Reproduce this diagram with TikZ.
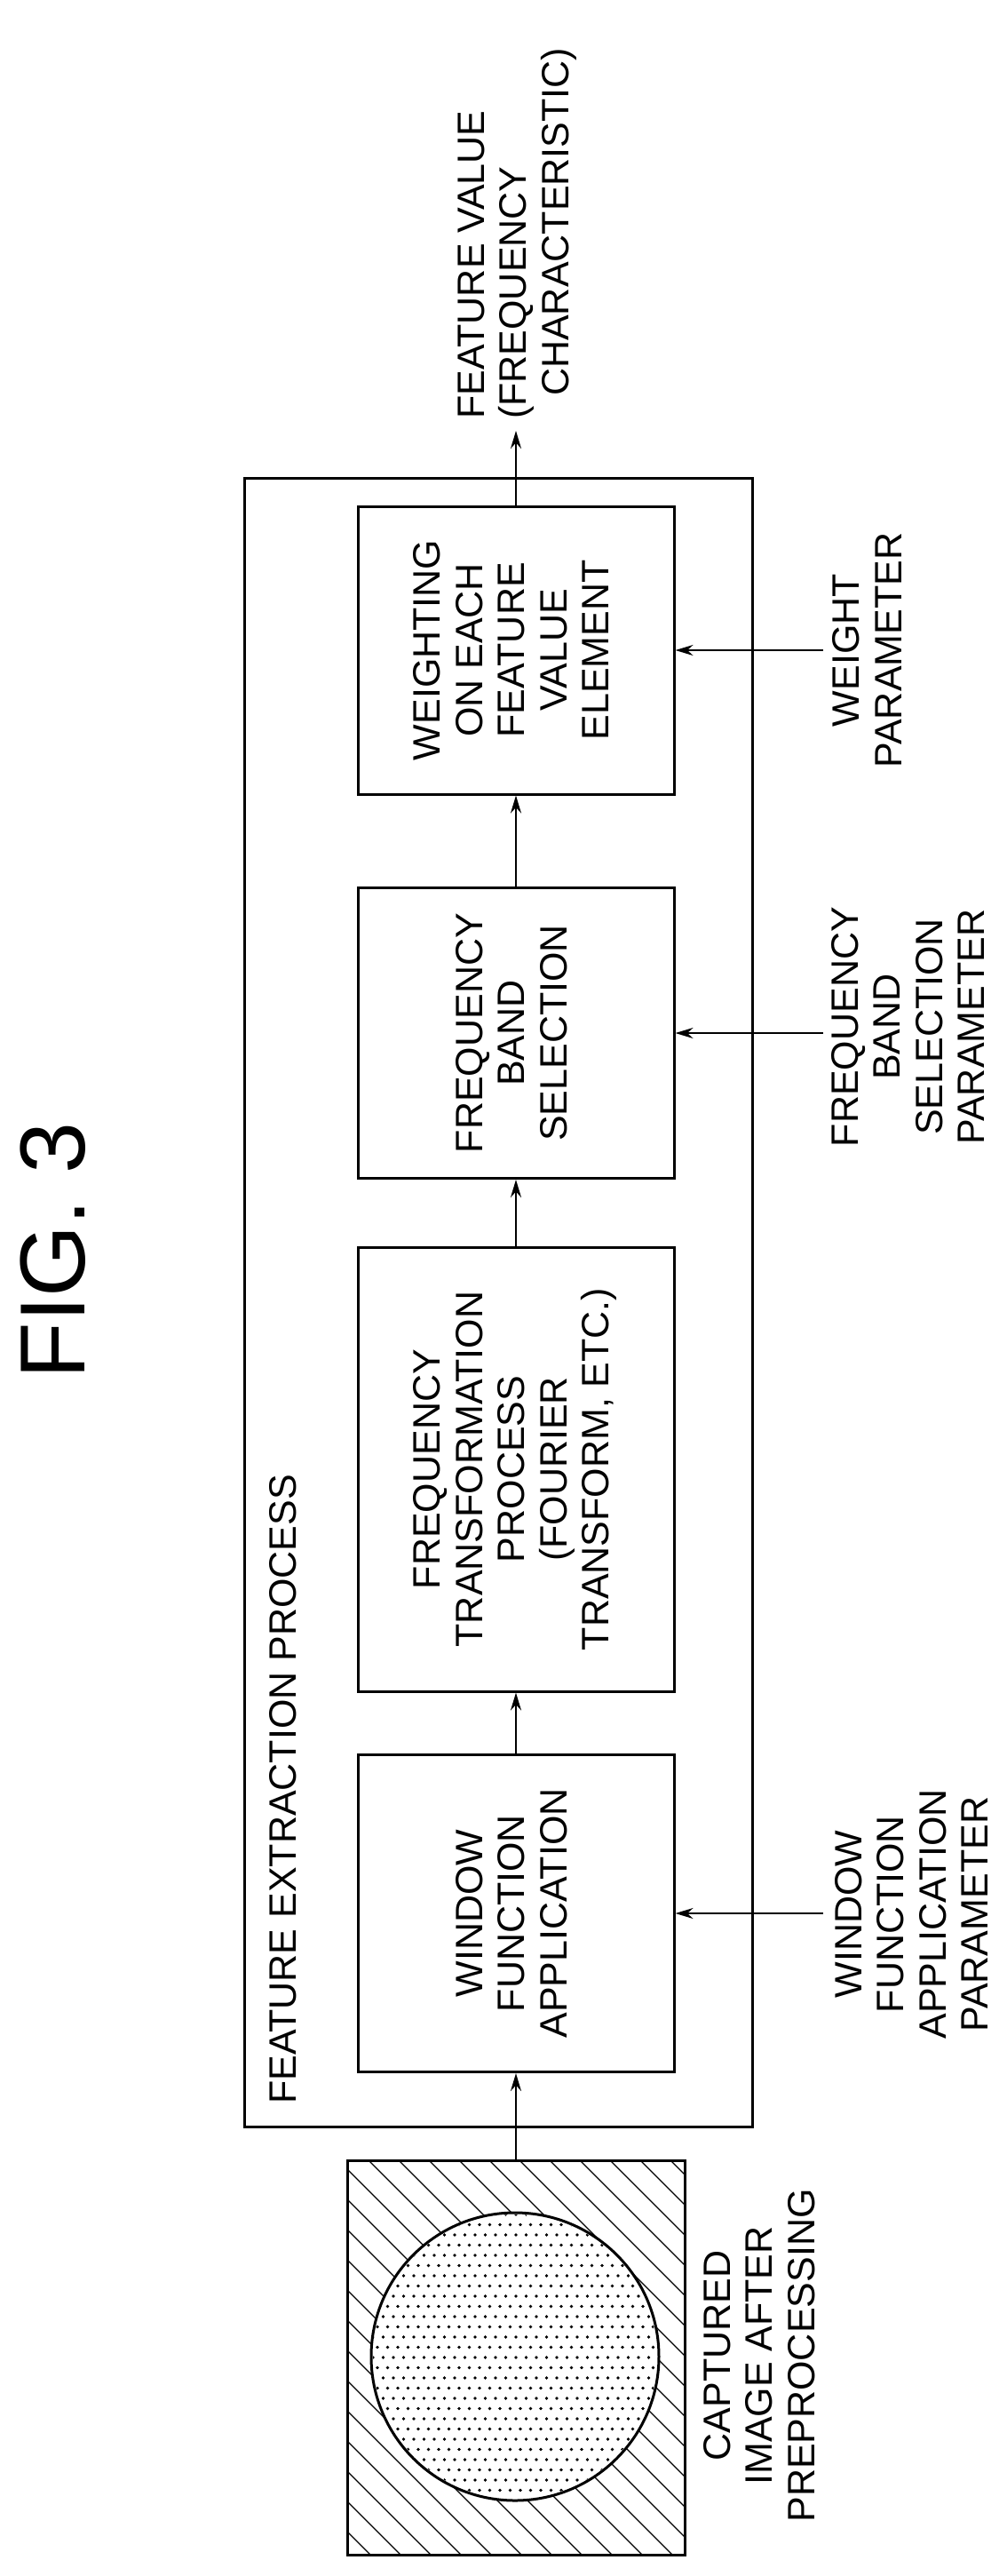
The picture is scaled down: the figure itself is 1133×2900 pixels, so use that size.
\documentclass[tikz,border=0pt]{standalone}
\usepackage{fontspec}
\setmainfont{Liberation Sans}
\usetikzlibrary{arrows.meta}
\begin{document}
\begin{tikzpicture}[x=1pt,y=-1pt,
  box/.style={draw,line width=3pt,minimum width=356pt,inner sep=0pt,font=\fontsize{43}{47.5}\selectfont},
  arr/.style={line width=2pt,-{Stealth[length=20pt,width=12pt]}},
  lab/.style={font=\fontsize{43}{47.5}\selectfont,inner sep=0pt}]
\useasboundingbox (0,0) rectangle (1133,2900);
% outer
\node[draw,line width=3pt,minimum width=572pt,minimum height=1856pt,inner sep=0pt] (outer) at (561,1466) {};
\node[lab,anchor=south] (fep) at (319,2369) {\rotatebox{90}{FEATURE EXTRACTION PROCESS}};
% boxes
\node[box,minimum height=324pt] (b4) at (581,732) {\rotatebox{90}{\begin{tabular}{@{}c@{}}WEIGHTING\\ON EACH\\FEATURE\\VALUE\\ELEMENT\end{tabular}}};
\node[box,minimum height=327pt] (b3) at (581,1163) {\rotatebox{90}{\begin{tabular}{@{}c@{}}FREQUENCY\\BAND\\SELECTION\end{tabular}}};
\node[box,minimum height=500pt] (b2) at (581,1654) {\rotatebox{90}{\begin{tabular}{@{}c@{}}FREQUENCY\\TRANSFORMATION\\PROCESS\\(FOURIER\\TRANSFORM, ETC.)\end{tabular}}};
\node[box,minimum height=357pt] (b1) at (581,2154) {\rotatebox{90}{\begin{tabular}{@{}c@{}}WINDOW\\FUNCTION\\APPLICATION\end{tabular}}};
% captured image
\node[draw,line width=3pt,minimum width=380pt,minimum height=444pt,inner sep=0pt] (img) at (581,2654) {};
\begin{scope}
\clip (391,2432) rectangle (771,2876);
\foreach \k in {-500,-466,...,600}
  \draw[line width=1.2pt] (391,2432+\k) -- ++(500,500);
\end{scope}
\fill[white] (580,2653) circle (162pt);
\begin{scope}
\clip (580,2653) circle (160pt);
\foreach \i in {0,...,29}
  \foreach \j in {0,...,29}
    \fill ({420+\i*11.5+mod(\j,2)*5},{2493+\j*11.5}) circle (1.8pt);
\end{scope}
\draw[line width=3pt] (580,2653) circle (162pt);
\node[draw,line width=3pt,minimum width=380pt,minimum height=444pt,inner sep=0pt] at (581,2654) {};
\node[lab] (cap) at (860,2652) {\rotatebox{90}{\begin{tabular}{@{}c@{}}CAPTURED\\IMAGE AFTER\\PREPROCESSING\end{tabular}}};
% arrows
\draw[arr] (img.north) -- (b1.south);
\draw[arr] (b1.north) -- (b2.south);
\draw[arr] (b2.north) -- (b3.south);
\draw[arr] (b3.north) -- (b4.south);
\coordinate (out) at (581,485);
\draw[arr] (b4.north) -- (out);
\node[lab,anchor=south] (fv) at (583,472) {\rotatebox{90}{\begin{tabular}{@{}l@{}}FEATURE VALUE\\(FREQUENCY\\\hspace*{26pt}CHARACTERISTIC)\end{tabular}}};
\coordinate (p4) at (927,732);
\coordinate (p3) at (927,1163);
\coordinate (p1) at (927,2154);
\draw[arr] (p4) -- (b4.east);
\draw[arr] (p3) -- (b3.east);
\draw[arr] (p1) -- (b1.east);
\node[lab] (wp) at (982,732) {\rotatebox{90}{\begin{tabular}{@{}c@{}}WEIGHT\\PARAMETER\end{tabular}}};
\node[lab] (bp) at (1028,1156) {\rotatebox{90}{\begin{tabular}{@{}c@{}}FREQUENCY\\BAND\\SELECTION\\PARAMETER\end{tabular}}};
\node[lab] (wfp) at (1032,2155) {\rotatebox{90}{\begin{tabular}{@{}c@{}}WINDOW\\FUNCTION\\APPLICATION\\PARAMETER\end{tabular}}};
\node[font=\fontsize{104}{110}\selectfont,inner sep=0pt] (fig) at (60,1408) {\rotatebox{90}{FIG. 3}};
\end{tikzpicture}
\end{document}
